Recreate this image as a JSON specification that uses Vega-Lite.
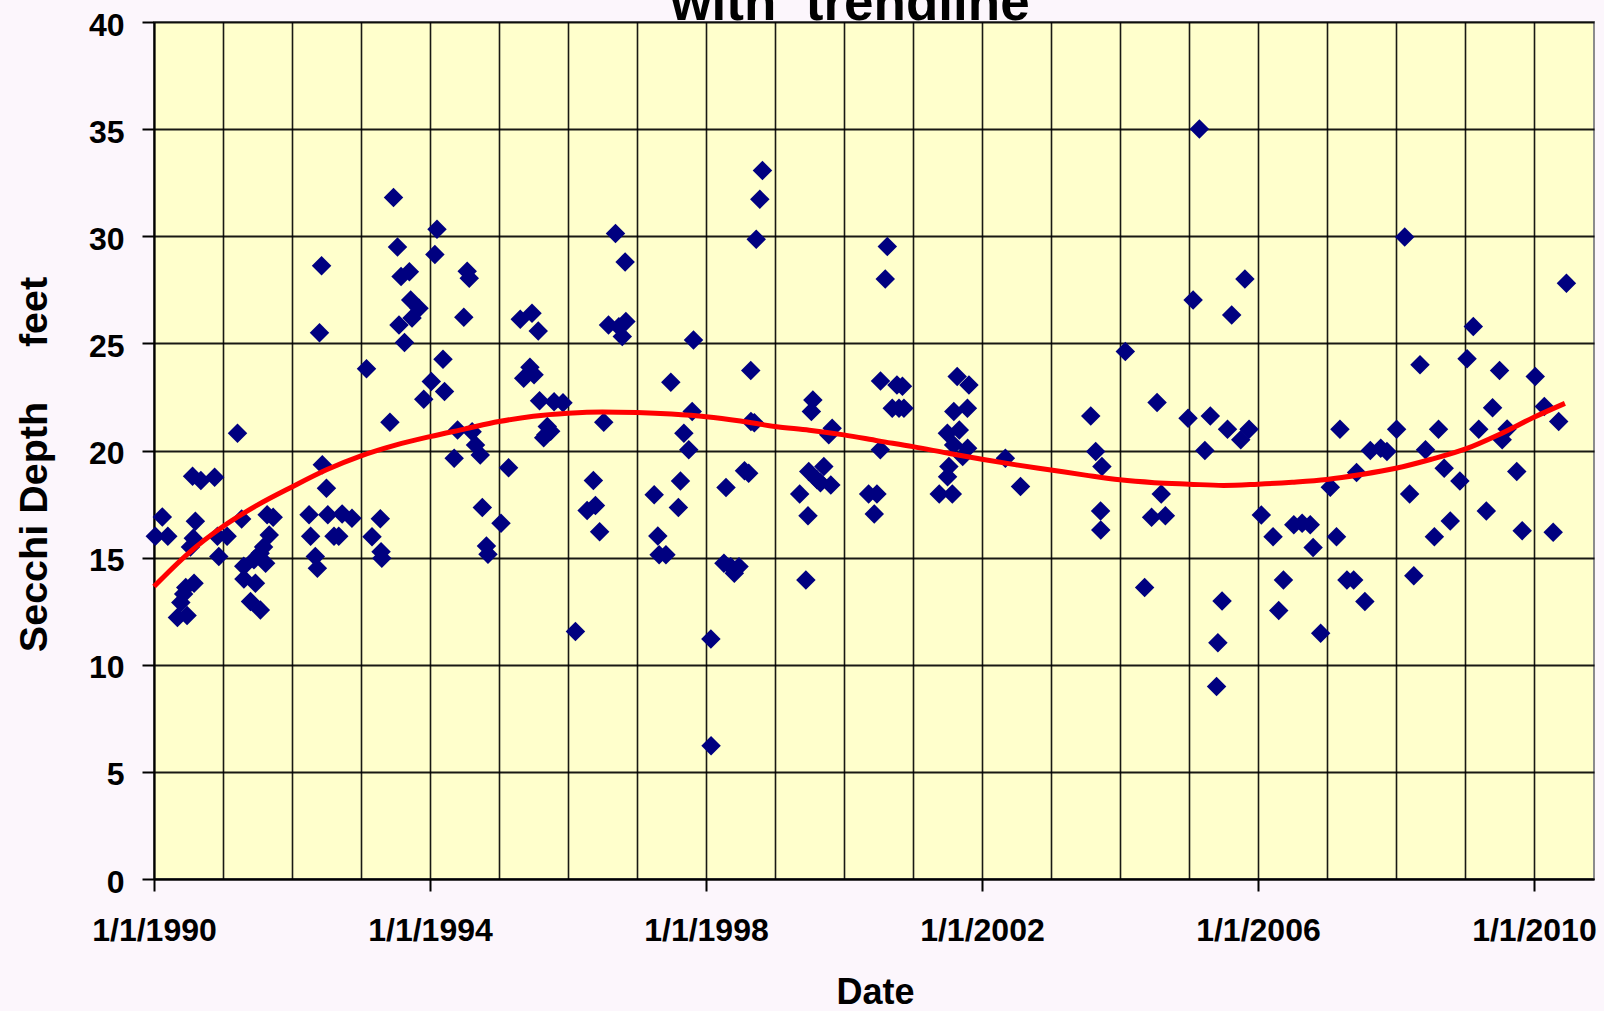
{
  "$schema": "https://vega.github.io/schema/vega-lite/v6.json",
  "width": 1440,
  "height": 857,
  "autosize": {"type": "none"},
  "padding": {"left": 154, "top": 22, "right": 10, "bottom": 132},
  "background": "#FCF6FC",
  "title": {"text": "with\u00a0\u00a0trendline", "fontSize": 53, "fontWeight": "bold", "color": "#000000", "font": "Liberation Sans", "anchor": "middle", "frame": "group", "baseline": "alphabetic", "offset": -64, "dx": -24},
  "config": {"view": {"fill": "#FFFFCC", "stroke": "#8C8C8C", "strokeWidth": 2}, "font": "Liberation Sans"},
  "datasets": {
    "points": [
      {"date": "1990-01-08", "depth": 16.0}, {"date": "1990-02-14", "depth": 16.9}, {"date": "1990-03-15", "depth": 16.0},
      {"date": "1990-05-05", "depth": 12.2}, {"date": "1990-05-23", "depth": 12.9}, {"date": "1990-06-07", "depth": 13.3},
      {"date": "1990-06-18", "depth": 13.6}, {"date": "1990-06-25", "depth": 12.3}, {"date": "1990-08-01", "depth": 13.8},
      {"date": "1990-07-13", "depth": 15.5}, {"date": "1990-07-28", "depth": 15.9}, {"date": "1990-08-08", "depth": 16.7},
      {"date": "1990-07-24", "depth": 18.8}, {"date": "1990-09-06", "depth": 18.6}, {"date": "1990-11-18", "depth": 18.75},
      {"date": "1990-12-03", "depth": 16.0}, {"date": "1990-12-10", "depth": 15.05},
      {"date": "1991-01-23", "depth": 16.0}, {"date": "1991-03-19", "depth": 20.8}, {"date": "1991-04-10", "depth": 16.8},
      {"date": "1991-04-21", "depth": 14.6}, {"date": "1991-04-22", "depth": 14.0}, {"date": "1991-05-27", "depth": 12.95},
      {"date": "1991-06-14", "depth": 14.9}, {"date": "1991-06-22", "depth": 13.8}, {"date": "1991-07-17", "depth": 15.2},
      {"date": "1991-07-18", "depth": 12.56}, {"date": "1991-08-04", "depth": 15.5}, {"date": "1991-08-15", "depth": 14.74},
      {"date": "1991-08-23", "depth": 17.0}, {"date": "1991-09-03", "depth": 16.06}, {"date": "1991-09-24", "depth": 16.88},
      {"date": "1992-04-01", "depth": 17.0}, {"date": "1992-04-09", "depth": 16.0}, {"date": "1992-05-04", "depth": 15.05},
      {"date": "1992-05-15", "depth": 14.5}, {"date": "1992-05-26", "depth": 25.5}, {"date": "1992-06-06", "depth": 28.62},
      {"date": "1992-06-10", "depth": 19.33}, {"date": "1992-07-02", "depth": 18.24}, {"date": "1992-07-09", "depth": 17.0},
      {"date": "1992-08-11", "depth": 16.0}, {"date": "1992-09-05", "depth": 16.0}, {"date": "1992-09-23", "depth": 17.04},
      {"date": "1992-11-14", "depth": 16.84},
      {"date": "1993-01-30", "depth": 23.81}, {"date": "1993-02-28", "depth": 15.97}, {"date": "1993-04-13", "depth": 16.81},
      {"date": "1993-04-17", "depth": 15.28}, {"date": "1993-04-21", "depth": 14.97}, {"date": "1993-06-03", "depth": 21.32},
      {"date": "1993-06-22", "depth": 31.81}, {"date": "1993-07-13", "depth": 29.5}, {"date": "1993-08-01", "depth": 28.12},
      {"date": "1993-09-14", "depth": 28.34}, {"date": "1993-09-21", "depth": 27.03}, {"date": "1993-11-04", "depth": 26.64},
      {"date": "1993-09-28", "depth": 26.18}, {"date": "1993-07-21", "depth": 25.86}, {"date": "1993-08-19", "depth": 25.04},
      {"date": "1993-11-29", "depth": 22.39},
      {"date": "1994-01-08", "depth": 23.22}, {"date": "1994-01-27", "depth": 29.15}, {"date": "1994-02-07", "depth": 30.33},
      {"date": "1994-03-11", "depth": 24.26}, {"date": "1994-03-19", "depth": 22.75}, {"date": "1994-05-09", "depth": 19.64},
      {"date": "1994-05-27", "depth": 20.96}, {"date": "1994-06-29", "depth": 26.22}, {"date": "1994-07-17", "depth": 28.37},
      {"date": "1994-07-28", "depth": 28.04}, {"date": "1994-08-12", "depth": 20.88}, {"date": "1994-08-30", "depth": 20.26},
      {"date": "1994-09-24", "depth": 19.79}, {"date": "1994-10-05", "depth": 17.34}, {"date": "1994-10-27", "depth": 15.54},
      {"date": "1994-11-04", "depth": 15.16},
      {"date": "1995-01-12", "depth": 16.6}, {"date": "1995-02-21", "depth": 19.2}, {"date": "1995-04-24", "depth": 26.13},
      {"date": "1995-05-12", "depth": 23.37}, {"date": "1995-06-14", "depth": 23.89}, {"date": "1995-06-25", "depth": 26.41},
      {"date": "1995-07-06", "depth": 23.53}, {"date": "1995-07-28", "depth": 25.58}, {"date": "1995-08-04", "depth": 22.32},
      {"date": "1995-08-26", "depth": 20.6}, {"date": "1995-09-06", "depth": 20.73}, {"date": "1995-09-14", "depth": 21.12},
      {"date": "1995-10-02", "depth": 20.9}, {"date": "1995-10-20", "depth": 22.28}, {"date": "1995-12-06", "depth": 22.23},
      {"date": "1996-02-10", "depth": 11.55}, {"date": "1996-04-12", "depth": 17.2}, {"date": "1996-05-15", "depth": 18.6},
      {"date": "1996-05-26", "depth": 17.43}, {"date": "1996-06-17", "depth": 16.21}, {"date": "1996-07-09", "depth": 21.32},
      {"date": "1996-08-03", "depth": 25.86}, {"date": "1996-09-09", "depth": 30.13}, {"date": "1996-09-27", "depth": 25.78},
      {"date": "1996-10-15", "depth": 25.32}, {"date": "1996-10-30", "depth": 28.8}, {"date": "1996-11-03", "depth": 26.02},
      {"date": "1997-04-02", "depth": 17.93}, {"date": "1997-04-21", "depth": 16.01}, {"date": "1997-04-28", "depth": 15.13},
      {"date": "1997-06-03", "depth": 15.13}, {"date": "1997-06-29", "depth": 23.19}, {"date": "1997-08-08", "depth": 17.34},
      {"date": "1997-08-19", "depth": 18.58}, {"date": "1997-09-06", "depth": 20.81}, {"date": "1997-10-02", "depth": 20.03},
      {"date": "1997-10-20", "depth": 21.82}, {"date": "1997-10-27", "depth": 25.16},
      {"date": "1998-01-27", "depth": 11.2}, {"date": "1998-01-28", "depth": 6.22}, {"date": "1998-04-06", "depth": 14.74},
      {"date": "1998-05-12", "depth": 14.58}, {"date": "1998-05-31", "depth": 14.27}, {"date": "1998-06-25", "depth": 14.58},
      {"date": "1998-04-17", "depth": 18.27}, {"date": "1998-07-24", "depth": 19.05}, {"date": "1998-08-15", "depth": 18.94},
      {"date": "1998-08-26", "depth": 23.73}, {"date": "1998-08-27", "depth": 21.35}, {"date": "1998-09-14", "depth": 21.3},
      {"date": "1998-09-24", "depth": 29.86}, {"date": "1998-10-13", "depth": 31.73}, {"date": "1998-10-27", "depth": 33.07},
      {"date": "1999-05-12", "depth": 17.97}, {"date": "1999-06-14", "depth": 13.96}, {"date": "1999-06-25", "depth": 16.95},
      {"date": "1999-06-29", "depth": 19.02}, {"date": "1999-07-13", "depth": 21.82}, {"date": "1999-07-21", "depth": 22.36},
      {"date": "1999-08-12", "depth": 18.63}, {"date": "1999-08-30", "depth": 18.5}, {"date": "1999-09-17", "depth": 19.25},
      {"date": "1999-10-24", "depth": 18.39}, {"date": "1999-10-13", "depth": 20.73}, {"date": "1999-10-31", "depth": 21.04},
      {"date": "2000-05-11", "depth": 17.97}, {"date": "2000-06-10", "depth": 17.04}, {"date": "2000-06-24", "depth": 17.97},
      {"date": "2000-07-12", "depth": 20.03}, {"date": "2000-07-13", "depth": 23.24}, {"date": "2000-08-07", "depth": 28.01},
      {"date": "2000-08-18", "depth": 29.52}, {"date": "2000-09-13", "depth": 21.97}, {"date": "2000-10-08", "depth": 23.06},
      {"date": "2000-10-19", "depth": 21.97}, {"date": "2000-11-06", "depth": 23.0}, {"date": "2000-11-14", "depth": 21.97},
      {"date": "2001-05-20", "depth": 17.97}, {"date": "2001-07-03", "depth": 18.78}, {"date": "2001-07-10", "depth": 19.25},
      {"date": "2001-07-02", "depth": 20.81}, {"date": "2001-07-28", "depth": 17.97}, {"date": "2001-08-04", "depth": 20.26},
      {"date": "2001-08-05", "depth": 21.82}, {"date": "2001-08-23", "depth": 23.45}, {"date": "2001-09-03", "depth": 20.96},
      {"date": "2001-09-21", "depth": 19.72}, {"date": "2001-10-16", "depth": 21.97}, {"date": "2001-10-17", "depth": 20.1},
      {"date": "2001-10-24", "depth": 23.06},
      {"date": "2002-05-05", "depth": 19.64}, {"date": "2002-07-24", "depth": 18.32},
      {"date": "2003-07-31", "depth": 21.61}, {"date": "2003-08-26", "depth": 19.95}, {"date": "2003-09-28", "depth": 19.25},
      {"date": "2003-09-21", "depth": 17.18}, {"date": "2003-09-22", "depth": 16.29},
      {"date": "2004-01-30", "depth": 24.62}, {"date": "2004-05-11", "depth": 13.6}, {"date": "2004-06-17", "depth": 16.88},
      {"date": "2004-07-16", "depth": 22.24}, {"date": "2004-08-07", "depth": 17.97}, {"date": "2004-08-29", "depth": 16.95},
      {"date": "2004-12-27", "depth": 21.51},
      {"date": "2005-01-23", "depth": 27.03}, {"date": "2005-02-25", "depth": 35.01}, {"date": "2005-03-26", "depth": 20.0},
      {"date": "2005-04-24", "depth": 21.61}, {"date": "2005-05-27", "depth": 8.98}, {"date": "2005-06-03", "depth": 11.03},
      {"date": "2005-06-25", "depth": 12.98}, {"date": "2005-07-24", "depth": 20.99}, {"date": "2005-08-15", "depth": 26.32},
      {"date": "2005-10-02", "depth": 20.5}, {"date": "2005-10-24", "depth": 28.01}, {"date": "2005-11-15", "depth": 20.99},
      {"date": "2006-01-19", "depth": 16.99}, {"date": "2006-03-22", "depth": 15.98}, {"date": "2006-04-21", "depth": 12.53},
      {"date": "2006-05-16", "depth": 13.96}, {"date": "2006-07-10", "depth": 16.53}, {"date": "2006-08-23", "depth": 16.6},
      {"date": "2006-10-05", "depth": 16.53}, {"date": "2006-10-20", "depth": 15.47}, {"date": "2006-11-29", "depth": 11.47},
      {"date": "2007-01-19", "depth": 18.29}, {"date": "2007-02-21", "depth": 15.98}, {"date": "2007-03-11", "depth": 20.99},
      {"date": "2007-04-17", "depth": 13.96}, {"date": "2007-05-23", "depth": 13.96}, {"date": "2007-06-07", "depth": 18.97},
      {"date": "2007-07-21", "depth": 12.95}, {"date": "2007-08-19", "depth": 20.0}, {"date": "2007-10-13", "depth": 20.1},
      {"date": "2007-11-15", "depth": 19.95},
      {"date": "2008-01-05", "depth": 20.99}, {"date": "2008-02-17", "depth": 29.96}, {"date": "2008-03-14", "depth": 17.97},
      {"date": "2008-04-05", "depth": 14.15}, {"date": "2008-05-08", "depth": 24.0}, {"date": "2008-06-06", "depth": 20.03},
      {"date": "2008-07-23", "depth": 15.98}, {"date": "2008-08-14", "depth": 20.99}, {"date": "2008-09-13", "depth": 19.17},
      {"date": "2008-10-15", "depth": 16.71}, {"date": "2008-12-05", "depth": 18.58},
      {"date": "2009-01-12", "depth": 24.28}, {"date": "2009-02-14", "depth": 25.79}, {"date": "2009-03-15", "depth": 20.99},
      {"date": "2009-04-24", "depth": 17.18}, {"date": "2009-05-27", "depth": 22.0}, {"date": "2009-07-03", "depth": 23.73},
      {"date": "2009-07-17", "depth": 20.5}, {"date": "2009-08-12", "depth": 21.0}, {"date": "2009-10-02", "depth": 19.02},
      {"date": "2009-10-31", "depth": 16.26},
      {"date": "2010-01-08", "depth": 23.45}, {"date": "2010-02-25", "depth": 22.05}, {"date": "2010-04-13", "depth": 16.19},
      {"date": "2010-05-12", "depth": 21.35}, {"date": "2010-06-22", "depth": 27.81}
    ],
    "trend": [
      {"date": "1990-01-01", "depth": 13.65}, {"date": "1990-07-02", "depth": 15.2}, {"date": "1991-01-01", "depth": 16.45},
      {"date": "1991-07-02", "depth": 17.45}, {"date": "1992-01-01", "depth": 18.3}, {"date": "1992-07-02", "depth": 19.1},
      {"date": "1993-01-01", "depth": 19.75}, {"date": "1993-07-02", "depth": 20.25}, {"date": "1994-01-01", "depth": 20.65},
      {"date": "1994-07-02", "depth": 21.0}, {"date": "1995-01-01", "depth": 21.35}, {"date": "1995-07-02", "depth": 21.6},
      {"date": "1996-01-01", "depth": 21.74}, {"date": "1996-07-02", "depth": 21.8}, {"date": "1997-01-01", "depth": 21.77},
      {"date": "1997-07-02", "depth": 21.7}, {"date": "1998-01-01", "depth": 21.58}, {"date": "1998-07-02", "depth": 21.38},
      {"date": "1999-01-01", "depth": 21.12}, {"date": "1999-07-02", "depth": 20.95}, {"date": "2000-01-01", "depth": 20.73},
      {"date": "2000-07-02", "depth": 20.45}, {"date": "2001-01-01", "depth": 20.18}, {"date": "2001-07-02", "depth": 19.88},
      {"date": "2002-01-01", "depth": 19.59}, {"date": "2002-07-02", "depth": 19.33}, {"date": "2003-01-01", "depth": 19.09},
      {"date": "2003-07-02", "depth": 18.85}, {"date": "2004-01-01", "depth": 18.63}, {"date": "2004-07-02", "depth": 18.5},
      {"date": "2005-01-01", "depth": 18.43}, {"date": "2005-07-02", "depth": 18.37}, {"date": "2006-01-01", "depth": 18.43},
      {"date": "2006-07-02", "depth": 18.52}, {"date": "2007-01-01", "depth": 18.65}, {"date": "2007-07-02", "depth": 18.88},
      {"date": "2008-01-01", "depth": 19.17}, {"date": "2008-07-02", "depth": 19.58}, {"date": "2009-01-01", "depth": 20.06},
      {"date": "2009-07-02", "depth": 20.75}, {"date": "2010-01-01", "depth": 21.55}, {"date": "2010-06-14", "depth": 22.2}
    ]
  },
  "layer": [
    {
      "data": {"name": "points"},
      "mark": {"type": "point", "shape": "diamond", "filled": true, "size": 380, "color": "#000080", "opacity": 1, "strokeWidth": 0},
      "encoding": {
        "x": {
          "field": "date", "type": "temporal",
          "scale": {"type": "utc", "domain": [{"year": 1990, "month": 1, "date": 1, "utc": true}, {"year": 2010, "month": 11, "date": 15, "utc": true}], "nice": false},
          "axis": {
            "title": "Date",
            "values": [
              {"year": 1990, "month": 1, "date": 1, "utc": true}, {"year": 1991, "month": 1, "date": 1, "utc": true},
              {"year": 1992, "month": 1, "date": 1, "utc": true}, {"year": 1993, "month": 1, "date": 1, "utc": true},
              {"year": 1994, "month": 1, "date": 1, "utc": true}, {"year": 1995, "month": 1, "date": 1, "utc": true},
              {"year": 1996, "month": 1, "date": 1, "utc": true}, {"year": 1997, "month": 1, "date": 1, "utc": true},
              {"year": 1998, "month": 1, "date": 1, "utc": true}, {"year": 1999, "month": 1, "date": 1, "utc": true},
              {"year": 2000, "month": 1, "date": 1, "utc": true}, {"year": 2001, "month": 1, "date": 1, "utc": true},
              {"year": 2002, "month": 1, "date": 1, "utc": true}, {"year": 2003, "month": 1, "date": 1, "utc": true},
              {"year": 2004, "month": 1, "date": 1, "utc": true}, {"year": 2005, "month": 1, "date": 1, "utc": true},
              {"year": 2006, "month": 1, "date": 1, "utc": true}, {"year": 2007, "month": 1, "date": 1, "utc": true},
              {"year": 2008, "month": 1, "date": 1, "utc": true}, {"year": 2009, "month": 1, "date": 1, "utc": true},
              {"year": 2010, "month": 1, "date": 1, "utc": true}
            ],
            "labelExpr": "utcyear(datum.value) % 4 == 2 ? utcFormat(datum.value, '%-m/%-d/%Y') : ''",
            "labelFontSize": 32, "labelFontWeight": "bold", "labelColor": "#000000", "labelPadding": 24,
            "labelFlush": false, "labelOverlap": false, "labelBound": false,
            "tickSize": 12, "tickWidth": 2, "tickColor": "#000000",
            "tickOpacity": {"condition": {"test": "utcyear(datum.value) % 4 == 2", "value": 1}, "value": 0},
            "grid": true, "gridColor": "#000000", "gridWidth": 1.6, "gridOpacity": 0.9,
            "domainColor": "#000000", "domainWidth": 2,
            "titleFontSize": 36, "titleFontWeight": "bold", "titleColor": "#000000",
            "titleX": 721, "titleY": 124, "titleBaseline": "alphabetic", "titleAlign": "center"
          }
        },
        "y": {
          "field": "depth", "type": "quantitative",
          "scale": {"domain": [0, 40], "nice": false, "zero": true},
          "axis": {
            "title": "Secchi Depth\u00a0\u00a0\u00a0\u00a0 feet",
            "values": [0, 5, 10, 15, 20, 25, 30, 35, 40],
            "labelFontSize": 32, "labelFontWeight": "bold", "labelColor": "#000000", "labelPadding": 18, "labelOffset": 3,
            "labelFlush": false, "labelOverlap": false,
            "tickSize": 12, "tickWidth": 2, "tickColor": "#000000",
            "grid": true, "gridColor": "#000000", "gridWidth": 2, "gridOpacity": 0.9,
            "domainColor": "#000000", "domainWidth": 2,
            "titleFontSize": 39.5, "titleFontWeight": "bold", "titleColor": "#000000",
            "titleX": -108, "titleY": 442, "titleAngle": -90, "titleAlign": "center", "titleBaseline": "alphabetic"
          }
        }
      }
    },
    {
      "data": {"name": "trend"},
      "mark": {"type": "line", "color": "#FF0000", "strokeWidth": 5, "interpolate": "monotone"},
      "encoding": {
        "x": {"field": "date", "type": "temporal"},
        "y": {"field": "depth", "type": "quantitative"}
      }
    }
  ]
}
